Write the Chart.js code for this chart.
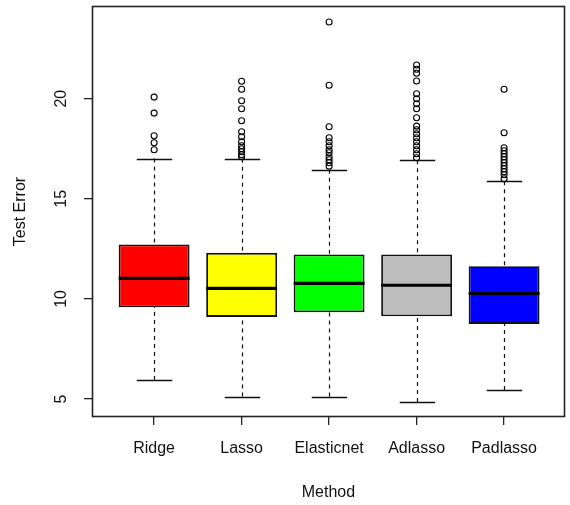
<!DOCTYPE html>
<html><head><meta charset="utf-8">
<script src="https://cdn.jsdelivr.net/npm/chart.js@4.4.0/dist/chart.umd.min.js"></script>
<style>html,body{margin:0;padding:0;background:#fff;}#wrap{width:570px;height:505px;}</style>
</head><body><div id="wrap"><canvas id="c" width="570" height="505"></canvas></div>
<script>
const categories = ['Ridge', 'Lasso', 'Elasticnet', 'Adlasso', 'Padlasso'];
const q1 = [9.58, 9.10, 9.33, 9.13, 8.75];
const q3 = [12.72, 12.30, 12.22, 12.22, 11.63];
const median = [11.02, 10.52, 10.77, 10.68, 10.27];
const whiskerLow = [5.95, 5.12, 5.12, 4.85, 5.45];
const whiskerHigh = [17.01, 17.00, 16.45, 16.92, 15.88];
const outliersRidge = [20.08, 19.28, 18.15, 17.8, 17.45];
const outliersLasso = [20.87, 20.47, 19.9, 19.5, 18.9, 18.35, 18.1, 17.85, 17.65, 17.5, 17.35, 17.2, 17.1];
const outliersElasticnet = [23.83, 20.67, 18.6, 18.05, 17.85, 17.65, 17.45, 17.3, 17.1, 16.95, 16.8, 16.63];
const outliersAdlasso = [21.68, 21.47, 21.27, 20.88, 20.25, 20.0, 19.75, 19.5, 19.05, 18.63, 18.45, 18.25, 18.05, 17.85, 17.65, 17.45, 17.25, 17.05];
const outliersPadlasso = [20.47, 18.3, 17.55, 17.4, 17.25, 17.1, 16.95, 16.8, 16.65, 16.5, 16.35, 16.2, 16.0];
const outliers = [outliersRidge, outliersLasso, outliersElasticnet, outliersAdlasso, outliersPadlasso];
const yTicks = [5, 10, 15, 20];
const boxColors = ['#FF0000', '#FFFF00', '#00FF00', '#BEBEBE', '#0000FF'];

const FONT = "'Liberation Sans', Arial, sans-serif";
const TXT = '#111';

const boxData = categories.map((c, i) => ({x: i + 1, y: [q1[i], q3[i]]}));
const outlierData = [];
outliers.forEach((arr, i) => arr.forEach(v => outlierData.push({x: i + 1, y: v})));

const boxPlugin = {
  id: 'boxParts',
  beforeDatasetsDraw(chart) {
    const {ctx, scales: {x, y}} = chart;
    const meta = chart.getDatasetMeta(1);
    ctx.save();
    ctx.strokeStyle = '#111';
    categories.forEach((c, i) => {
      const w = meta.data[i].width;
      const px = Math.round(x.getPixelForValue(i + 1)) + 0.5;
      ctx.lineWidth = 1.2;
      ctx.setLineDash([4, 4]);
      ctx.beginPath();
      ctx.moveTo(px, y.getPixelForValue(whiskerHigh[i]));
      ctx.lineTo(px, y.getPixelForValue(q3[i]));
      ctx.moveTo(px, y.getPixelForValue(whiskerLow[i]));
      ctx.lineTo(px, y.getPixelForValue(q1[i]));
      ctx.stroke();
      ctx.setLineDash([]);
      ctx.lineWidth = 1.5;
      ctx.beginPath();
      [whiskerHigh[i], whiskerLow[i]].forEach(v => {
        const py = Math.round(y.getPixelForValue(v)) + 0.5;
        ctx.moveTo(px - w / 4, py);
        ctx.lineTo(px + w / 4, py);
      });
      ctx.stroke();
    });
    ctx.restore();
  },
  afterDatasetsDraw(chart) {
    const {ctx, scales: {x, y}} = chart;
    const meta = chart.getDatasetMeta(1);
    ctx.save();
    ctx.strokeStyle = '#000';
    ctx.lineWidth = 3.2;
    categories.forEach((c, i) => {
      const bar = meta.data[i];
      const py = y.getPixelForValue(median[i]);
      ctx.beginPath();
      ctx.moveTo(bar.x - bar.width / 2, py);
      ctx.lineTo(bar.x + bar.width / 2, py);
      ctx.stroke();
    });
    ctx.restore();
  },
  afterDraw(chart) {
    const {ctx, chartArea: a, scales: {y}} = chart;
    ctx.save();
    ctx.strokeStyle = '#222';
    ctx.lineWidth = 1.6;
    ctx.strokeRect(Math.round(a.left) + 0.5, Math.round(a.top) + 0.5, Math.round(a.right - a.left) - 1, Math.round(a.bottom - a.top) - 1);
    ctx.fillStyle = TXT;
    ctx.font = '16px ' + FONT;
    ctx.textAlign = 'center';
    ctx.textBaseline = 'middle';
    y.ticks.forEach(t => {
      const py = y.getPixelForValue(t.value);
      ctx.save();
      ctx.translate(62, py);
      ctx.rotate(-Math.PI / 2);
      ctx.fillText(String(t.value), 0, 0);
      ctx.restore();
    });
    ctx.restore();
  }
};

new Chart(document.getElementById('c'), {
  type: 'bar',
  data: {
    datasets: [
      {
        type: 'scatter',
        data: outlierData,
        pointStyle: 'circle',
        radius: 3,
        borderColor: '#000',
        backgroundColor: 'rgba(255,255,255,0)',
        borderWidth: 1.1
      },
      {
        type: 'bar',
        data: boxData,
        backgroundColor: boxColors,
        borderColor: '#111',
        borderWidth: 1.8,
        borderSkipped: false,
        categoryPercentage: 1,
        barPercentage: 0.81
      }
    ]
  },
  options: {
    responsive: false,
    animation: false,
    devicePixelRatio: 1,
    layout: {padding: {top: 6, right: 4, left: 0, bottom: 0}},
    plugins: {legend: {display: false}, tooltip: {enabled: false}},
    scales: {
      x: {
        type: 'linear',
        min: 0.29,
        max: 5.695,
        offset: false,
        afterBuildTicks: s => { s.ticks = categories.map((c, i) => ({value: i + 1})); },
        afterFit: s => { s.height = 88; },
        ticks: {
          callback: v => categories[v - 1],
          font: {family: FONT, size: 16},
          color: TXT,
          padding: 14,
          autoSkip: false,
          maxRotation: 0,
          minRotation: 0
        },
        grid: {drawOnChartArea: false, drawTicks: true, tickLength: 8, color: '#222', lineWidth: 1.3, offset: false},
        border: {display: false},
        title: {display: true, text: 'Method', font: {family: FONT, size: 16}, color: TXT, padding: {top: 0, bottom: 3}}
      },
      y: {
        type: 'linear',
        min: 4.1,
        max: 24.63,
        afterBuildTicks: s => { s.ticks = yTicks.map(v => ({value: v})); },
        afterFit: s => { s.width = 92; },
        ticks: {display: false},
        grid: {drawOnChartArea: false, drawTicks: true, tickLength: 8, color: '#222', lineWidth: 1.3},
        border: {display: false},
        title: {display: true, text: 'Test Error', font: {family: FONT, size: 16}, color: TXT, padding: {top: 11, bottom: 0}}
      }
    }
  },
  plugins: [boxPlugin]
});
</script>
</body></html>
